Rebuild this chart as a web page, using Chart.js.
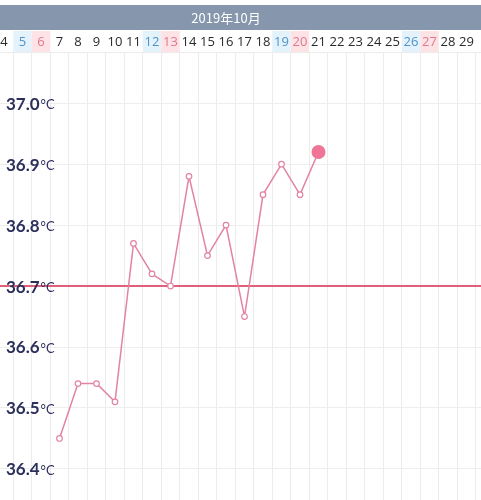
<!DOCTYPE html>
<html>
<head>
<meta charset="utf-8">
<script src="https://cdn.jsdelivr.net/npm/chart.js@4/dist/chart.umd.min.js"></script>
<style>
  html, body { margin: 0; padding: 0; background: #fff; }
  #wrap { position: relative; width: 481px; height: 500px; }
</style>
</head>
<body>
<div id="wrap"><canvas id="bbtChart" width="481" height="500"></canvas></div>
<script>
const monthTitle = '2019年10月';
const days = [4, 5, 6, 7, 8, 9, 10, 11, 12, 13, 14, 15, 16, 17, 18, 19, 20, 21, 22, 23, 24, 25, 26, 27, 28, 29];
const saturdays = [5, 12, 19, 26];
const sundays = [6, 13, 20, 27];
const tempDays = [7, 8, 9, 10, 11, 12, 13, 14, 15, 16, 17, 18, 19, 20, 21];
const temps = [36.45, 36.54, 36.54, 36.51, 36.77, 36.72, 36.70, 36.88, 36.75, 36.80, 36.65, 36.85, 36.90, 36.85, 36.92];
const yTicks = [36.4, 36.5, 36.6, 36.7, 36.8, 36.9, 37.0];
const coverLine = 36.7;

const HEADER_TOP = 5, HEADER_BOTTOM = 30, ROW_TOP = 31, ROW_BOTTOM = 52;

const chromePlugin = {
    id: 'chrome',
    beforeDraw(chart) {
        const { ctx, scales: { x }, width } = chart;
        ctx.save();
        // header bar
        ctx.fillStyle = '#8596ad';
        ctx.fillRect(0, HEADER_TOP, width, HEADER_BOTTOM - HEADER_TOP);
        ctx.fillStyle = '#ffffff';
        ctx.font = '13px "Noto Sans CJK JP", "Noto Sans", sans-serif';
        ctx.textAlign = 'center';
        ctx.textBaseline = 'middle';
        ctx.fillText(monthTitle, 226, (HEADER_TOP + HEADER_BOTTOM) / 2 + 1);

        // day row
        ctx.font = '13px "Open Sans", "Noto Sans", sans-serif';
        days.forEach(d => {
            const l = x.getPixelForValue(d - 0.5);
            const r = x.getPixelForValue(d + 0.5);
            const cx = x.getPixelForValue(d);
            let color = '#2a2a2a';
            if (saturdays.includes(d)) {
                ctx.fillStyle = '#e4f2fb';
                ctx.fillRect(l, ROW_TOP, r - l, ROW_BOTTOM - ROW_TOP);
                color = '#4f93c9';
            } else if (sundays.includes(d)) {
                ctx.fillStyle = '#fde2e6';
                ctx.fillRect(l, ROW_TOP, r - l, ROW_BOTTOM - ROW_TOP);
                color = '#e0798a';
            }
            ctx.fillStyle = color;
            ctx.fillText(String(d), cx, (ROW_TOP + ROW_BOTTOM) / 2 + 1);
        });
        ctx.strokeStyle = '#ececec';
        ctx.lineWidth = 1;
        ctx.beginPath();
        ctx.moveTo(0, ROW_BOTTOM + 0.5);
        ctx.lineTo(width, ROW_BOTTOM + 0.5);
        ctx.stroke();
        ctx.restore();
    },
    beforeDatasetsDraw(chart) {
        const { ctx, scales: { y }, chartArea } = chart;
        const py = y.getPixelForValue(coverLine);
        ctx.save();
        ctx.strokeStyle = '#e0607c';
        ctx.lineWidth = 2;
        ctx.beginPath();
        ctx.moveTo(chartArea.left, py);
        ctx.lineTo(chartArea.right, py);
        ctx.stroke();
        ctx.restore();
    },
    afterDatasetsDraw(chart) {
        const { ctx, scales: { y } } = chart;
        ctx.save();
        // y labels inside the plot
        ctx.textBaseline = 'middle';
        ctx.textAlign = 'left';
        yTicks.forEach(v => {
            const py = y.getPixelForValue(v);
            ctx.font = 'bold 17px Lato, "Noto Sans", sans-serif';
            ctx.fillStyle = '#2b2f5c';
            const num = v.toFixed(1);
            ctx.fillText(num, 6, py + 1);
            const w = ctx.measureText(num).width;
            ctx.font = '13px Lato, "Noto Sans", sans-serif';
            ctx.fillText('°C', 6 + w + 1, py + 2);
        });
        ctx.restore();
    }
};

const lastIdx = temps.length - 1;

new Chart(document.getElementById('bbtChart'), {
    type: 'line',
    data: {
        datasets: [{
            data: tempDays.map((d, i) => ({ x: d, y: temps[i] })),
            borderColor: '#e283a3',
            borderWidth: 1.5,
            tension: 0,
            pointRadius: temps.map((_, i) => i === lastIdx ? 7 : 2.8),
            pointBorderWidth: temps.map((_, i) => i === lastIdx ? 0 : 1.2),
            pointBackgroundColor: temps.map((_, i) => i === lastIdx ? '#f07496' : '#ffffff'),
            pointBorderColor: '#e283a3'
        }]
    },
    options: {
        responsive: false,
        animation: false,
        layout: { autoPadding: false, padding: { top: ROW_BOTTOM, left: 0, right: 0, bottom: 0 } },
        plugins: { legend: { display: false }, tooltip: { enabled: false } },
        scales: {
            x: {
                type: 'linear',
                min: 3.784,
                max: 29.784,
                afterBuildTicks: (axis) => {
                    axis.ticks = days.map(d => ({ value: d + 0.5 }));
                },
                afterFit: (axis) => { axis.height = 0; },
                ticks: { display: false },
                grid: { color: '#ececec', drawTicks: false },
                border: { display: false }
            },
            y: {
                min: 36.349,
                max: 37.084,
                afterBuildTicks: (axis) => {
                    axis.ticks = yTicks.map(v => ({ value: v }));
                },
                afterFit: (axis) => { axis.width = 0; },
                ticks: { display: false },
                grid: { color: '#eeeeee', drawTicks: false },
                border: { display: false }
            }
        }
    },
    plugins: [chromePlugin]
});
</script>
</body>
</html>
